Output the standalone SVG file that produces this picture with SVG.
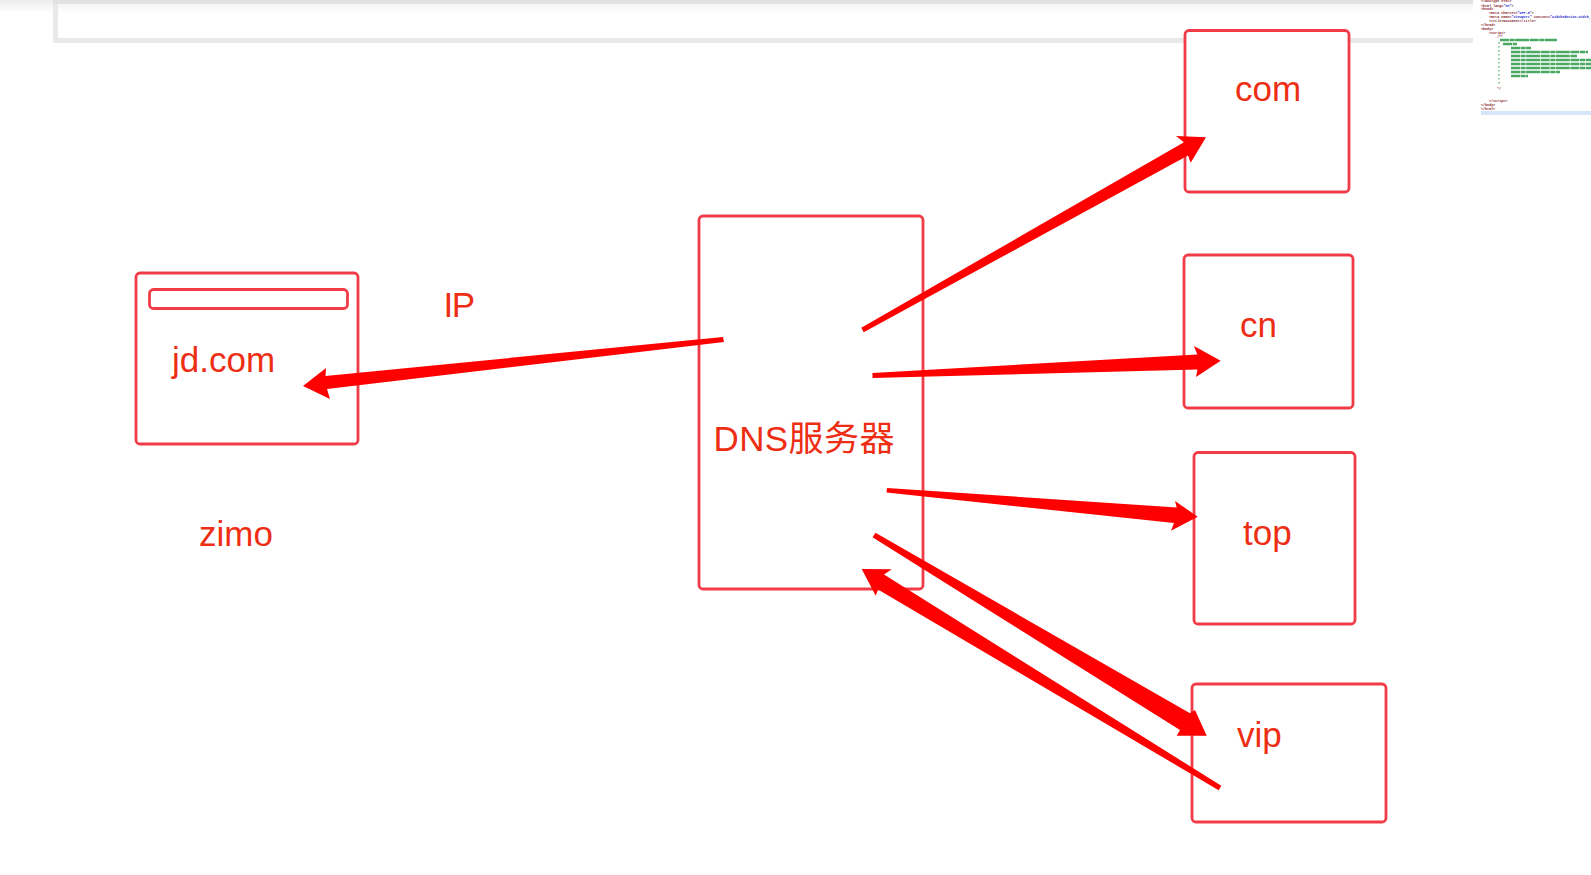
<svg xmlns="http://www.w3.org/2000/svg" width="1591" height="875" viewBox="0 0 1591 875">
<defs>
<linearGradient id="shade" x1="0" y1="0" x2="0" y2="1"><stop offset="0" stop-color="#ececec"/><stop offset="1" stop-color="#ffffff"/></linearGradient>
<linearGradient id="shadeLight" x1="0" y1="0" x2="0" y2="1"><stop offset="0" stop-color="#f5f5f5"/><stop offset="1" stop-color="#ffffff"/></linearGradient>
</defs>
<style>
.box{fill:#fff;stroke:#f13c48;stroke-width:2.8;}
.none{fill:none;stroke:#f13c48;stroke-width:2.8;}
.lab{font-family:"Liberation Sans","Noto Sans CJK SC",sans-serif;font-size:35px;fill:#ee2e14;}
.arrow{fill:#fe0000;stroke:none;}
.code{font-family:"Liberation Mono",monospace;font-size:3.4px;font-weight:bold;fill:#8a1f2e;}
.val{fill:#1a1acc;}
.green{stroke:#4aa862;stroke-width:2.3;stroke-dasharray:9 .6 5 .5 14 .6;fill:none;}
</style>
<rect x="0" y="0" width="1591" height="875" fill="#fff"/>
<g id="page-bar">
<rect x="0" y="0" width="53" height="13" fill="url(#shade)"/>
<rect x="53" y="0" width="1420" height="43" fill="#e9e9e9"/>
<rect x="53" y="0" width="1420" height="4" fill="#e2e2e2"/>
<rect x="58" y="4" width="1415" height="34" fill="#fff"/>
<rect x="58" y="4" width="1415" height="10" fill="url(#shadeLight)"/>
</g>
<g id="code-thumbnail">
<rect x="1481" y="111" width="110" height="4" fill="#d4e6f8"/>
<text class="code" x="1481" y="2">&lt;!doctype html&gt;</text>
<text class="code" x="1481" y="6.500">&lt;html lang=<tspan class="val">"en"</tspan>&gt;</text>
<text class="code" x="1481" y="10">&lt;head&gt;</text>
<text class="code" x="1489" y="14">&lt;meta charset=<tspan class="val">"UTF-8"</tspan>&gt;</text>
<text class="code" x="1489" y="18">&lt;meta name=<tspan class="val">"viewport"</tspan> content=<tspan class="val">"width=device-width,</tspan></text>
<text class="code" x="1489" y="22">&lt;title&gt;Document&lt;/title&gt;</text>
<text class="code" x="1481" y="26">&lt;/head&gt;</text>
<text class="code" x="1481" y="30">&lt;body&gt;</text>
<text class="code" x="1489" y="34">&lt;script&gt;</text>
<text class="code" x="1497" y="38">/**</text>
<path class="green" d="M1500 40H1557M1503 44H1517M1511 48H1531M1511 52H1588M1511 56H1577M1511 60H1591M1511 64H1591M1511 68H1591M1511 72H1560M1511 76H1528"/>
<path class="green" style="stroke-width:1.200;stroke-dasharray:1.500 2.500" d="M1499 42V85"/>
<text class="code" x="1497" y="90">*/</text>
<text class="code" x="1489" y="101.500">&lt;/script&gt;</text>
<text class="code" x="1481" y="105.500">&lt;/body&gt;</text>
<text class="code" x="1481" y="109.500">&lt;/html&gt;</text>
</g>
<g id="node-browser">
<rect class="box" x="136" y="273" width="222" height="171" rx="4"/>
<rect class="none" x="149.500" y="289.500" width="198" height="19" rx="4"/>
<text class="lab" x="172" y="372">jd.com</text>
</g>
<g id="node-zimo"><text class="lab" x="199" y="546">zimo</text></g>
<g id="node-ip"><text class="lab" x="443.500" y="317" letter-spacing="-1.500">IP</text></g>
<g id="node-dns">
<rect class="box" x="699" y="216" width="224" height="373" rx="4"/>
<text class="lab" x="713.500" y="450.500" letter-spacing="0.400">DNS服务器</text>
</g>
<g id="node-com">
<rect class="box" x="1185" y="30.500" width="164" height="161.500" rx="4"/>
<text class="lab" x="1235" y="100.800">com</text>
</g>
<g id="node-cn">
<rect class="box" x="1184" y="255" width="169" height="153" rx="4"/>
<text class="lab" x="1240" y="337">cn</text>
</g>
<g id="node-top">
<rect class="box" x="1194" y="452.500" width="161" height="171.500" rx="4"/>
<text class="lab" x="1243" y="545">top</text>
</g>
<g id="node-vip">
<rect class="box" x="1192" y="684" width="194" height="138" rx="4"/>
<text class="lab" x="1237" y="747">vip</text>
</g>
<g id="connectors">
<polygon class="arrow" points="723,337 724,342 327,389 330,399 303,386 326,368 325.500,376"/>
<polygon class="arrow" points="861.300,327.800 863.700,332.200 1188,155.500 1190.700,162.700 1206,137.300 1176,136 1184,142.200"/>
<polygon class="arrow" points="872.400,373 872.600,378 1197.500,369.500 1196,377 1220.700,360.700 1194,346 1197.300,354.500"/>
<polygon class="arrow" points="887,488 886.500,492.500 1174,523 1171,530.700 1197.700,516.700 1175,501 1176.700,507.500"/>
<polygon class="arrow" points="875.500,532.800 872.500,537.200 1180,730 1176.700,735.700 1206.700,735.700 1195,710 1190,713.300"/>
<polygon class="arrow" points="1221.300,785.800 1218.700,790.200 878,589.500 875.700,595.700 861.700,569 891.700,569.300 884,574.500"/>
</g>
</svg>
